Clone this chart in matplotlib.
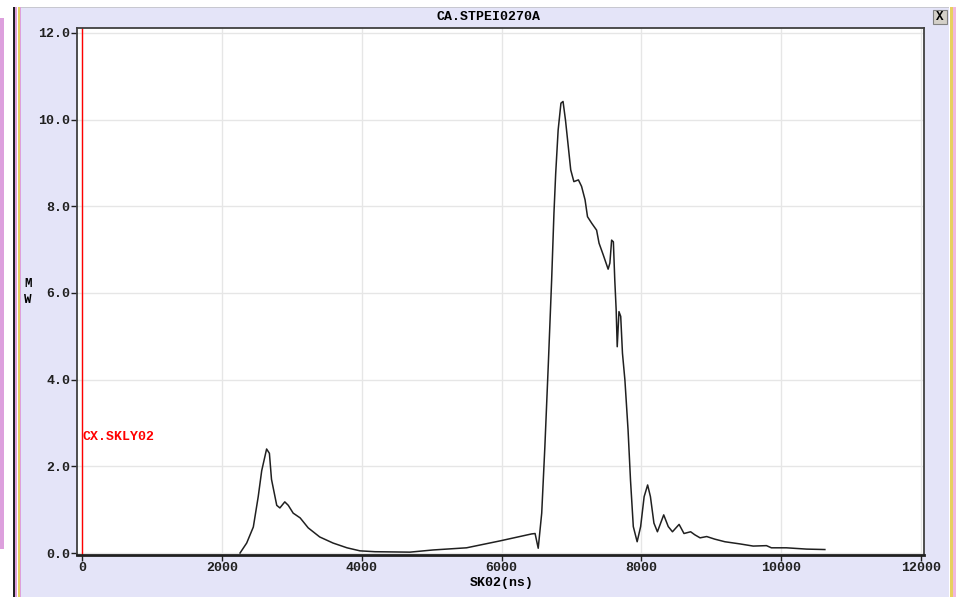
import numpy as np
import matplotlib
matplotlib.use('Agg')
import matplotlib.pyplot as plt
from matplotlib.patches import Rectangle

# waveform (time in ns, power in MW)
timeNs = [2260, 2355, 2450, 2520, 2570, 2640, 2680, 2710, 2785, 2830, 2900, 2950, 3020,
          3120, 3235, 3400, 3590, 3790, 3975, 4190, 4690, 5020, 5500, 5740, 5980,
          6430, 6480, 6525, 6575, 6620, 6670, 6717, 6750, 6775, 6810, 6850, 6880, 6915,
          6955, 6990, 7035, 7100, 7145, 7195, 7230, 7290, 7360, 7395, 7455, 7525, 7550,
          7575, 7600, 7620, 7640, 7655, 7680, 7705, 7730, 7765, 7810, 7845, 7885, 7940,
          7990, 8040, 8090, 8130, 8180, 8230, 8320, 8385, 8445, 8540, 8610, 8705, 8765,
          8840, 8935, 9050, 9195, 9410, 9600, 9790, 9860, 10075, 10365, 10625]
powerMW = [0.0, 0.23, 0.6, 1.3, 1.9, 2.4, 2.3, 1.7, 1.1, 1.04, 1.18, 1.1, 0.92,
           0.81, 0.58, 0.37, 0.23, 0.12, 0.05, 0.03, 0.02, 0.07, 0.12, 0.2, 0.28,
           0.44, 0.45, 0.11, 0.92, 2.45, 4.38, 6.3, 7.84, 8.76, 9.76, 10.38, 10.42, 9.99,
           9.38, 8.84, 8.57, 8.61, 8.46, 8.15, 7.76, 7.61, 7.45, 7.15, 6.88, 6.55, 6.69,
           7.22, 7.18, 6.3, 5.61, 4.76, 5.57, 5.46, 4.61, 3.99, 2.84, 1.68, 0.61, 0.26,
           0.61, 1.3, 1.57, 1.3, 0.69, 0.49, 0.88, 0.61, 0.49, 0.66, 0.45, 0.49, 0.42,
           0.35, 0.38, 0.32, 0.26, 0.21, 0.16, 0.17, 0.12, 0.12, 0.09, 0.08]

xTicks = [0, 2000, 4000, 6000, 8000, 10000, 12000]
yTicks = [0.0, 2.0, 4.0, 6.0, 8.0, 10.0, 12.0]

W, H = 958, 597
lavender = '#e4e4f8'
font = ['Liberation Mono', 'DejaVu Sans Mono']


def px(x, y, w, h):
    # pixel box (top-left origin) -> figure fraction
    return (x / W, 1 - (y + h) / H, w / W, h / H)


def addBox(fig, x, y, w, h, color, edge='none', z=-5):
    l, b, ww, hh = px(x, y, w, h)
    r = Rectangle((l, b), ww, hh, transform=fig.transFigure, facecolor=color,
                  edgecolor=edge, linewidth=0.8, zorder=z)
    fig.patches.append(r)


fig = plt.figure(figsize=(W / 100, H / 100), dpi=100, facecolor='white')

# window background and side strips
addBox(fig, 21, 7, 928, 590, lavender)
addBox(fig, 21, 7, 928, 1, '#c8c8d0')
addBox(fig, 0, 18, 4, 531, '#dda0dd')
addBox(fig, 13, 7, 1.5, 590, '#202020')
addBox(fig, 15, 7, 2, 590, '#dda0dd')
addBox(fig, 18, 7, 2, 590, '#e8d060')
addBox(fig, 20, 7, 1, 590, '#dda0dd')
addBox(fig, 950, 7, 2.5, 590, '#e8d060')
addBox(fig, 953, 7, 2.5, 590, '#f0b8e0')

# close button
addBox(fig, 933, 10, 14, 14, '#d4d0c8', edge='#808080', z=2)
fig.text(940 / W, 1 - 17 / H, 'X', ha='center', va='center', fontsize=9,
         fontweight='bold', family=font, zorder=3)

ax = fig.add_axes([77 / W, 42 / H, 847 / W, 527 / H])
ax.set_zorder(1)
ax.set_facecolor('white')
ax.plot(timeNs, powerMW, color='#202020', linewidth=1.1, zorder=3)
ax.axvline(0, color='red', linewidth=1.0, zorder=2)

ax.set_xlim(-72, 12043)
ax.set_ylim(-0.046, 12.115)
ax.set_xticks(xTicks)
ax.set_yticks(yTicks)
ax.set_xticklabels([str(t) for t in xTicks])
ax.set_yticklabels(['%.1f' % t for t in yTicks])
ax.grid(True, color='#e6e6e6', linewidth=1.0, zorder=0)
ax.set_axisbelow(True)
ax.tick_params(direction='out', length=4, width=1, colors='#202020', pad=1)
for lab in ax.get_xticklabels() + ax.get_yticklabels():
    lab.set_family(font)
    lab.set_fontweight('bold')
    lab.set_fontsize(9.5)
for s in ax.spines.values():
    s.set_color('#404040')
    s.set_linewidth(1.3)
ax.spines['bottom'].set_linewidth(2.0)
ax.spines['bottom'].set_color('#202020')

# channel name in red
ax.text(0, 2.68, 'CX.SKLY02', color='red', fontsize=9.5, fontweight='bold',
        family=font, ha='left', va='center', zorder=4)

fig.text(488 / W, 1 - 17 / H, 'CA.STPEI0270A', ha='center', va='center',
         fontsize=9.5, fontweight='bold', family=font)
fig.text(502 / W, 1 - 583 / H, 'SK02(ns)', ha='center', va='center',
         fontsize=9.5, fontweight='bold', family=font)
fig.text(28 / W, 1 - 284 / H, 'M', ha='center', va='center',
         fontsize=9, fontweight='bold', family=font)
fig.text(28 / W, 1 - 300 / H, 'W', ha='center', va='center',
         fontsize=9, fontweight='bold', family=font)

fig.savefig('out.png', dpi=100, facecolor='white')
